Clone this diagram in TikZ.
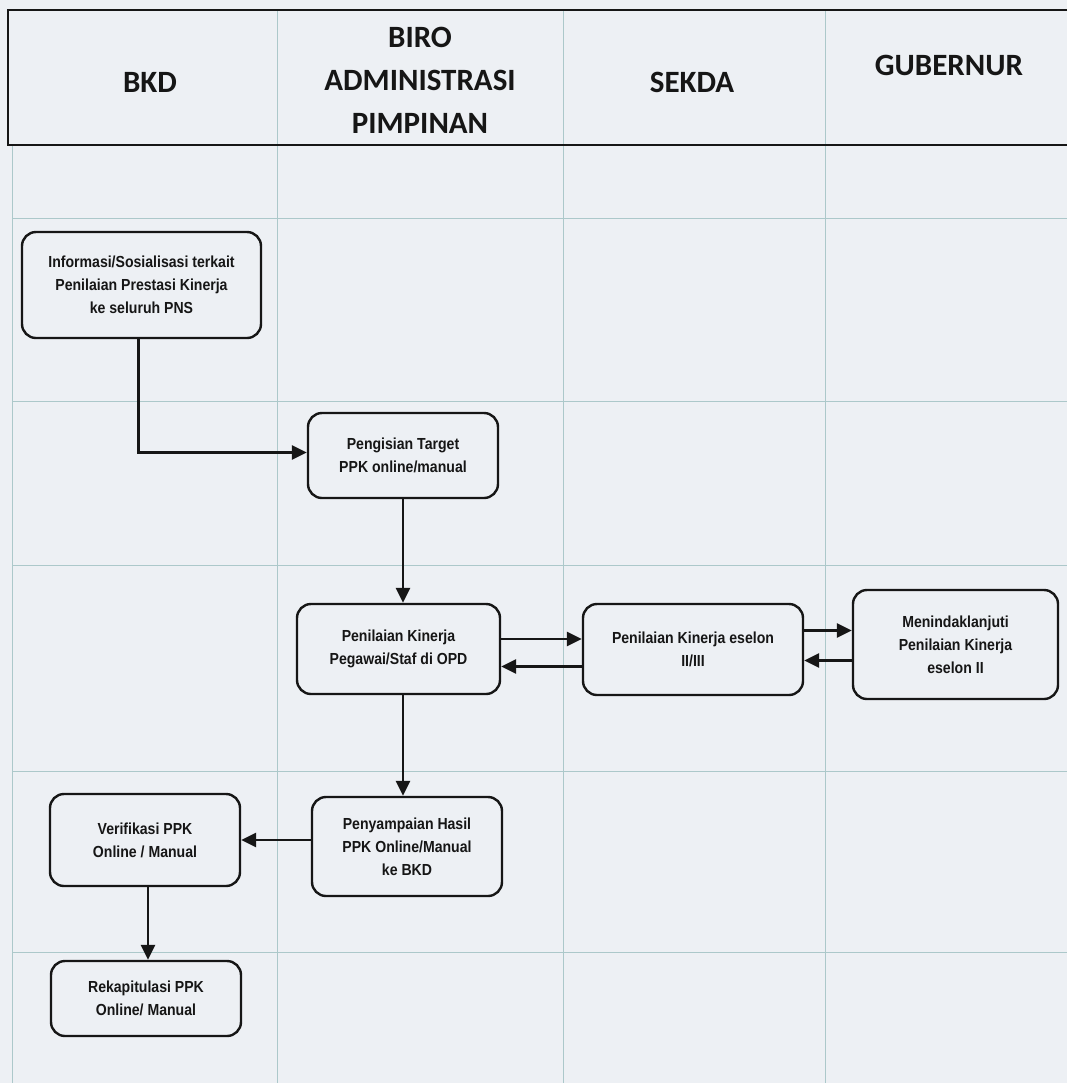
\documentclass[tikz,border=0pt]{standalone}
\usepackage{fontspec}
\setmainfont{Liberation Sans}
\newfontfamily\headfont{Carlito}
\newfontfamily\boxfont{Liberation Sans}[FakeStretch=0.88]
\usetikzlibrary{arrows.meta,calc}
\definecolor{paper}{RGB}{237,240,244}
\definecolor{gridc}{RGB}{172,200,202}
\definecolor{ink}{RGB}{22,22,22}
\begin{document}
\begin{tikzpicture}[x=0.5pt,y=-0.5pt,
  lane/.style={draw=gridc, line width=0.5pt},
  frame/.style={draw=ink, line width=1.1pt},
  title/.style={font=\headfont\bfseries\fontsize{15.5}{21.5}\selectfont, align=center, text=ink, inner sep=0pt},
  stepbox/.style={draw=ink, line width=1.2pt, rounded corners=7pt, align=center,
    font=\boxfont\bfseries\fontsize{8}{11.5}\selectfont, text=ink, inner sep=0pt},
  flow/.style={draw=ink, line width=1.4pt, -{Triangle[length=7.5pt,width=7pt]}}]
\useasboundingbox (0,0) rectangle (1067,1083);
\fill[paper] (0,0) rectangle (1067,1083);

% swimlane grid
\foreach \gx in {277,563,825} \draw[lane] (\gx,10) -- (\gx,1083);
\draw[lane] (12,145) -- (12,1083);
\foreach \gy in {218,401,565,771,952} \draw[lane] (12,\gy) -- (1067,\gy);

% header band
\draw[frame] (1067,10) -- (8,10) -- (8,145) -- (1067,145);
\node[title] (hbkd) at (150,82) {BKD};
\node[title] (hbiro) at (420,80) {BIRO\\ADMINISTRASI\\PIMPINAN};
\node[title] (hsekda) at (692,82) {SEKDA};
\node[title] (hgub) at (949,65) {GUBERNUR};

% process steps
\node[stepbox, minimum width=119.5pt, minimum height=53pt] (info) at (141.5,285)
  {Informasi/Sosialisasi terkait\\Penilaian Prestasi Kinerja\\ke seluruh PNS};
\node[stepbox, minimum width=95pt, minimum height=42.5pt] (target) at (403,455.5)
  {Pengisian Target\\PPK online/manual};
\node[stepbox, minimum width=101.5pt, minimum height=45pt] (pegawai) at (398.5,649)
  {Penilaian Kinerja\\Pegawai/Staf di OPD};
\node[stepbox, minimum width=110pt, minimum height=45.5pt] (eselon) at (693,649.5)
  {Penilaian Kinerja eselon\\II/III};
\node[stepbox, minimum width=102.5pt, minimum height=54.5pt] (tindak) at (955.5,644.5)
  {Menindaklanjuti\\Penilaian Kinerja\\eselon II};
\node[stepbox, minimum width=95pt, minimum height=49.5pt] (hasil) at (407,846.5)
  {Penyampaian Hasil\\PPK Online/Manual\\ke BKD};
\node[stepbox, minimum width=95pt, minimum height=46pt] (verif) at (145,840)
  {Verifikasi PPK\\Online / Manual};
\node[stepbox, minimum width=95pt, minimum height=37.5pt] (rekap) at (146,998.5)
  {Rekapitulasi PPK\\Online/ Manual};

% connector anchor points
\coordinate (infoout) at ($(info.south)+(-3,0)$);
\coordinate (targetin) at ($(target.west)+(0,-3)$);
\coordinate (pegtoes) at ($(pegawai.east)+(0,-10)$);
\coordinate (estopeg) at ($(eselon.west)+(0,17)$);
\coordinate (estotin) at ($(eselon.east)+(0,-19)$);
\coordinate (tintoes) at ($(tindak.west)+(0,16)$);
\coordinate (hasilin) at ($(hasil.north)+(-4,0)$);
\coordinate (verifout) at ($(verif.south)+(3,0)$);

% connectors
\draw[flow] (infoout) |- (targetin);
\draw[flow] (target.south) -- (target.south |- pegawai.north);
\draw[flow] (pegtoes) -- (pegtoes -| eselon.west);
\draw[flow] (estopeg) -- (estopeg -| pegawai.east);
\draw[flow] (estotin) -- (estotin -| tindak.west);
\draw[flow] (tintoes) -- (tintoes -| eselon.east);
\draw[flow] (hasilin |- pegawai.south) -- (hasilin);
\draw[flow] (verif.east -| hasil.west) -- (verif.east);
\draw[flow] (verifout) -- (verifout |- rekap.north);
\end{tikzpicture}
\end{document}
